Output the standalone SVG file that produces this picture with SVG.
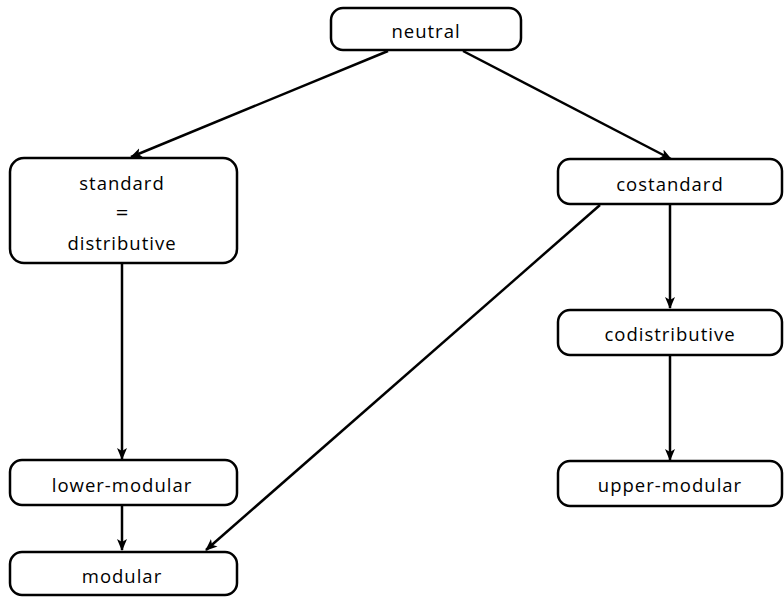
<svg xmlns="http://www.w3.org/2000/svg" width="784" height="597" viewBox="0 0 784 597">
<style>
.n rect{fill:#fff;stroke:#000;stroke-width:2.5}
.n text{font-family:"Open Sans","DejaVu Sans",sans-serif;font-size:18.5px;text-anchor:middle;fill:#000;letter-spacing:1px}
.n text.eq{font-size:22px;letter-spacing:0}
.e path{fill:none;stroke:#000;stroke-width:2.5}
</style>
<defs>
<marker id="a" viewBox="0 0 12 10" refX="11" refY="5" markerWidth="12" markerHeight="10" markerUnits="userSpaceOnUse" orient="auto">
<path d="M0,0 L12,5 L0,10 L3,5 Z" fill="#000"/>
</marker>
</defs>
<g class="e">
<path d="M388,51 L131,157" marker-end="url(#a)"/>
<path d="M463,51 L671,159" marker-end="url(#a)"/>
<path d="M122,264 L122,459" marker-end="url(#a)"/>
<path d="M122,506 L122,550" marker-end="url(#a)"/>
<path d="M600,205 L206,550" marker-end="url(#a)"/>
<path d="M670,205 L670,308" marker-end="url(#a)"/>
<path d="M670,356 L670,460" marker-end="url(#a)"/>
</g>
<g id="neutral" class="n"><rect x="331" y="8" width="190" height="42" rx="12"/><text x="426" y="38">neutral</text></g>
<g id="standard" class="n"><rect x="10" y="158" width="227" height="105" rx="14"/><text x="122" y="190">standard</text><text class="eq" x="122" y="220">=</text><text x="122" y="250">distributive</text></g>
<g id="costandard" class="n"><rect x="558" y="159" width="224" height="45" rx="12"/><text x="670" y="191">costandard</text></g>
<g id="codistributive" class="n"><rect x="558" y="310" width="224" height="45" rx="12"/><text x="670" y="341">codistributive</text></g>
<g id="upper-modular" class="n"><rect x="558" y="461" width="224" height="45" rx="12"/><text x="670" y="492">upper-modular</text></g>
<g id="lower-modular" class="n"><rect x="10" y="460" width="227" height="45" rx="12"/><text x="122" y="492">lower-modular</text></g>
<g id="modular" class="n"><rect x="10" y="552" width="227" height="43" rx="12"/><text x="122" y="583">modular</text></g>
</svg>
